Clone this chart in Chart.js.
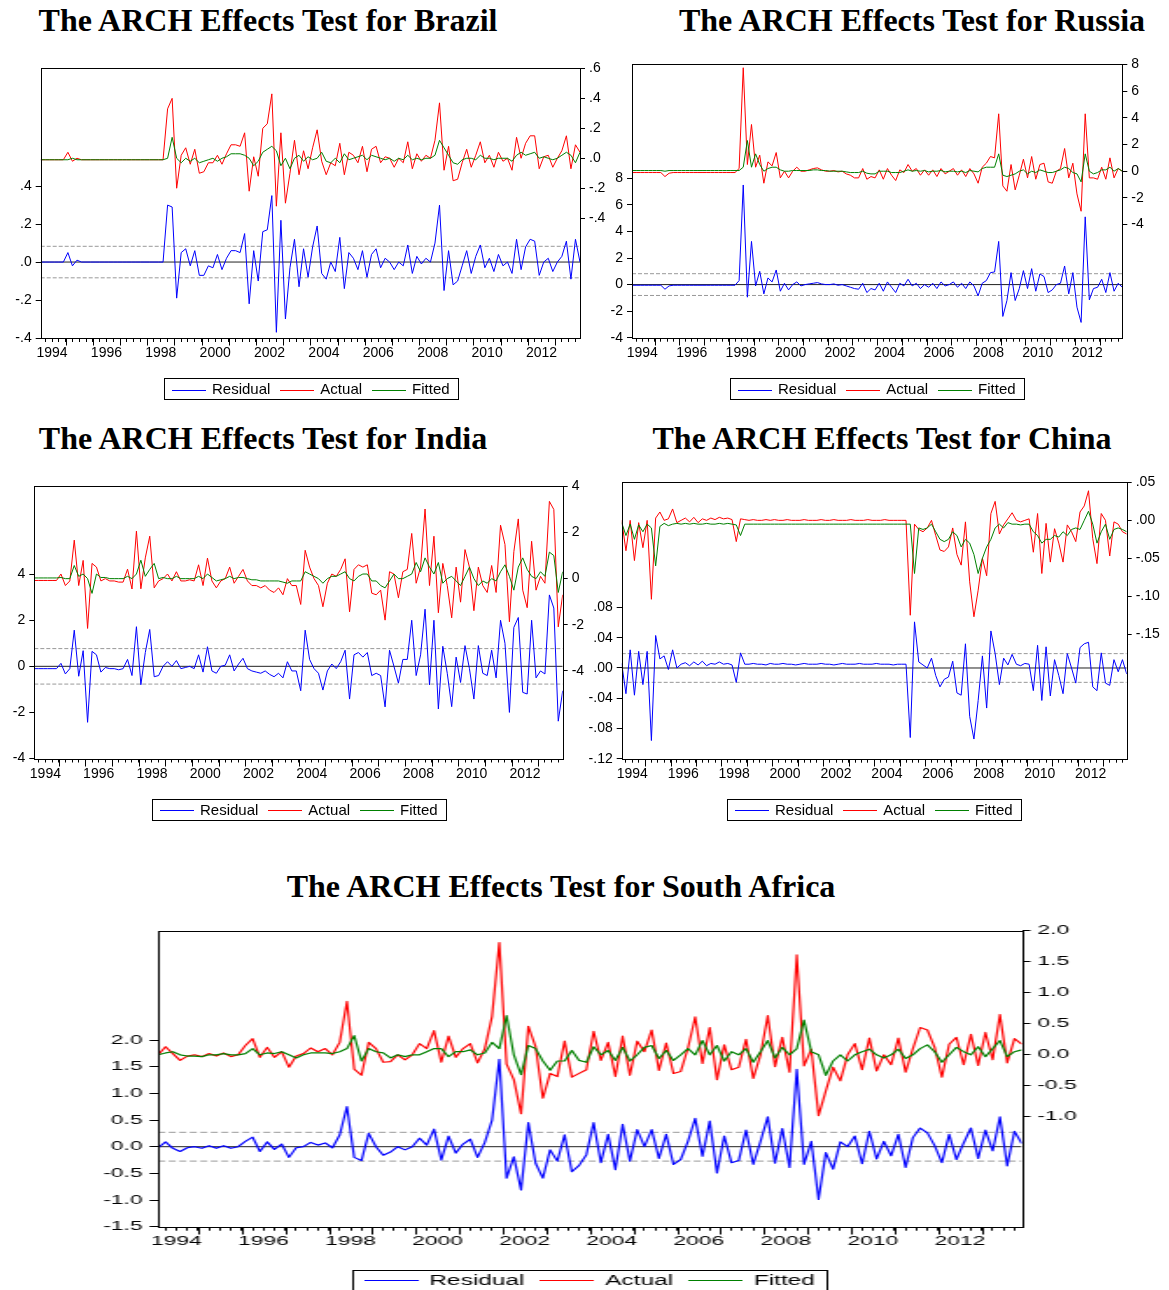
<!DOCTYPE html>
<html>
<head>
<meta charset="utf-8">
<script src="https://cdn.jsdelivr.net/npm/chart.js@4.4.1/dist/chart.umd.min.js"></script>
<style>
  body { margin: 0; background: #fff; width: 1169px; height: 1290px; position: relative; overflow: hidden; }
  .title { position: absolute; width: 640px; text-align: center; white-space: nowrap; color: #000;
           font: bold 32px 'Liberation Serif', 'Times New Roman', serif; line-height: 32px; }
  .panel { position: absolute; transform-origin: 0 0; }
</style>
</head>
<body>
<div class="title" style="left:-52px; top:4px">The ARCH Effects Test for Brazil</div>
<div class="title" style="left:592px; top:4px">The ARCH Effects Test for Russia</div>
<div class="title" style="left:-57px; top:422px">The ARCH Effects Test for India</div>
<div class="title" style="left:562px; top:422px">The ARCH Effects Test for China</div>
<div class="title" style="left:241px; top:870px">The ARCH Effects Test for South Africa</div>
<script>
// Muestra bimestral 1994M02 - 2013M12 (120 observaciones por serie)
const START = 1994 + 1 / 12;
const STEP = 2 / 12;
const N = 120;
const LABEL_YEARS = [1994, 1996, 1998, 2000, 2002, 2004, 2006, 2008, 2010, 2012];

// ---------- Brazil ----------
const BRAZIL_RESIDUAL = [
  0, 0, 0, 0, 0, 0,
  0.05, -0.02, 0.01, 0, 0, 0,
  0, 0, 0, 0, 0, 0,
  0, 0, 0, 0, 0, 0,
  0, 0, 0, 0, 0.30, 0.29,
  -0.19, 0.05, 0.07, -0.02, 0.06, -0.07,
  -0.07, -0.02, -0.03, 0.04, -0.04, 0.02,
  0.06, 0.06, 0.05, 0.15, -0.22, 0.06,
  -0.10, 0.16, 0.17, 0.35, -0.37, 0.22,
  -0.30, -0.03, 0.12, -0.13, 0.07, -0.08,
  0.08, 0.19, -0.06, -0.09, 0.00, -0.05,
  0.13, -0.14, 0.05, 0.02, -0.04, 0.06,
  -0.08, 0.04, 0.07, -0.03, 0.02, 0.00,
  -0.04, 0.00, -0.02, 0.09, -0.06, 0.03,
  -0.01, 0.02, 0.00, 0.10, 0.30, -0.15,
  0.06, -0.12, -0.10, -0.02, 0.06, -0.06,
  0.03, 0.09, -0.03, 0.02, -0.05, 0.04,
  -0.02, 0.00, -0.06, 0.12, -0.04, 0.08,
  0.12, 0.11, -0.07, 0.00, 0.02, -0.05,
  0.00, 0.03, 0.11, -0.09, 0.12, 0.00
];
const BRAZIL_ACTUAL = [
  -0.01, -0.01, -0.01, -0.01, -0.01, -0.01,
  0.04, -0.02, 0.00, -0.01, -0.01, -0.01,
  -0.01, -0.01, -0.01, -0.01, -0.01, -0.01,
  -0.01, -0.01, -0.01, -0.01, -0.01, -0.01,
  -0.01, -0.01, -0.01, -0.01, 0.33, 0.40,
  -0.20, 0.02, 0.07, -0.04, 0.06, -0.10,
  -0.09, -0.03, -0.03, 0.02, -0.04, 0.03,
  0.09, 0.09, 0.08, 0.17, -0.22, 0.01,
  -0.12, 0.20, 0.23, 0.43, -0.32, 0.17,
  -0.30, -0.10, 0.12, -0.11, 0.05, -0.07,
  0.07, 0.19, -0.02, -0.11, -0.03, -0.05,
  0.10, -0.11, 0.04, 0.02, -0.03, 0.08,
  -0.09, 0.06, 0.08, -0.03, 0.01, 0.00,
  -0.06, 0.00, -0.03, 0.11, -0.07, 0.03,
  -0.02, 0.02, 0.00, 0.12, 0.37, -0.08,
  0.08, -0.15, -0.14, -0.03, 0.06, -0.06,
  0.02, 0.11, -0.03, 0.02, -0.06, 0.04,
  -0.02, 0.00, -0.08, 0.14, 0.00, 0.10,
  0.15, 0.15, -0.07, 0.01, 0.02, -0.06,
  0.00, 0.05, 0.15, -0.07, 0.09, 0.04
];
const BRAZIL_FITTED = [
  -0.01, -0.01, -0.01, -0.01, -0.01, -0.01,
  -0.01, 0.00, -0.01, -0.01, -0.01, -0.01,
  -0.01, -0.01, -0.01, -0.01, -0.01, -0.01,
  -0.01, -0.01, -0.01, -0.01, -0.01, -0.01,
  -0.01, -0.01, -0.01, -0.01, 0.00, 0.14,
  0.00, -0.03, 0.00, -0.02, 0.00, -0.03,
  -0.02, -0.01, 0.00, -0.02, 0.00, 0.01,
  0.03, 0.03, 0.03, 0.02, 0.00, -0.05,
  -0.02, 0.04, 0.06, 0.08, 0.05, -0.05,
  0.00, -0.07, 0.00, 0.02, -0.02, 0.01,
  -0.01, 0.00, 0.04, -0.02, -0.03, 0.00,
  -0.03, 0.03, -0.01, 0.00, 0.01, 0.02,
  -0.01, 0.02, 0.01, 0.00, -0.01, 0.00,
  -0.02, 0.00, -0.01, 0.02, -0.01, 0.00,
  -0.01, 0.00, 0.00, 0.02, 0.12, 0.07,
  0.02, -0.03, -0.04, -0.01, 0.00, 0.00,
  -0.01, 0.02, 0.00, 0.00, -0.01, 0.00,
  0.00, 0.00, -0.02, 0.02, 0.04, 0.02,
  0.03, 0.04, 0.00, 0.01, 0.00, -0.01,
  0.00, 0.02, 0.04, 0.02, -0.03, 0.04
];
const BRAZIL_SIGMA = 0.083;
const BRAZIL_LEFT_TICKS = [-0.4, -0.2, 0, 0.2, 0.4];
const BRAZIL_RIGHT_TICKS = [-0.4, -0.2, 0, 0.2, 0.4, 0.6];

// ---------- Russia ----------
const RUSSIA_RESIDUAL = [
  -0.05, -0.05, -0.05, -0.05, -0.05, -0.05,
  -0.05, -0.05, -0.35, -0.10, -0.05, -0.05,
  -0.05, -0.05, -0.05, -0.05, -0.05, -0.05,
  -0.05, -0.05, -0.05, -0.05, -0.05, -0.05,
  -0.05, -0.05, 0.30, 7.50, -0.95, 3.25,
  -0.10, 1.00, -0.70, 0.50, 0.20, 1.10,
  -0.50, 0.10, -0.40, 0.00, 0.20, -0.10,
  0.00, 0.05, 0.10, 0.15, 0.05, 0.00,
  0.00, 0.05, -0.05, 0.00, -0.10, -0.20,
  -0.30, -0.35, 0.10, -0.60, -0.30, -0.40,
  0.10, -0.50, 0.20, -0.20, -0.60, 0.10,
  -0.10, 0.40, -0.10, 0.10, -0.30, 0.00,
  -0.20, 0.10, -0.30, 0.20, -0.10, 0.00,
  0.20, -0.20, 0.10, -0.30, 0.20, -0.10,
  -0.85, 0.10, 0.30, 0.90, 0.95, 3.25,
  -2.40, -1.20, 0.90, -1.20, -0.30, 1.05,
  -0.30, 1.20, -0.50, 0.80, 0.60, -0.60,
  -0.40, 0.00, 0.10, 1.40, -0.70, 0.90,
  -1.70, -2.85, 5.10, -1.15, -0.30, -0.20,
  0.40, -0.60, 0.90, -0.50, 0.10, -0.20
];
const RUSSIA_ACTUAL = [
  -0.10, -0.10, -0.10, -0.10, -0.10, -0.10,
  -0.10, -0.10, -0.40, -0.15, -0.10, -0.10,
  -0.10, -0.10, -0.10, -0.10, -0.10, -0.10,
  -0.10, -0.10, -0.10, -0.10, -0.10, -0.10,
  -0.10, -0.10, 0.20, 7.75, 0.50, 3.50,
  0.30, 1.20, -0.90, 0.70, 0.40, 1.40,
  -0.50, 0.00, -0.50, 0.00, 0.30, 0.00,
  0.00, 0.10, 0.20, 0.25, 0.10, 0.00,
  0.00, 0.05, -0.05, 0.00, -0.20, -0.30,
  -0.50, -0.50, 0.20, -0.60, -0.40, -0.50,
  0.10, -0.60, 0.20, -0.30, -0.70, 0.10,
  -0.10, 0.50, 0.00, 0.20, -0.30, 0.10,
  -0.30, 0.10, -0.40, 0.20, -0.20, 0.00,
  0.20, -0.30, 0.10, -0.40, 0.20, -0.20,
  -0.90, 0.30, 0.60, 1.10, 1.00, 4.30,
  -1.10, -1.50, 0.50, -1.40, -0.30, 0.90,
  -0.50, 1.10, -0.60, 0.50, 0.60, -0.80,
  -0.90, 0.00, 0.20, 1.70, -0.50, 0.60,
  -1.70, -3.00, 4.30, -0.50, -0.50, -0.60,
  0.30, -0.60, 1.00, -0.50, 0.20, 0.00
];
const RUSSIA_FITTED = [
  0.05, 0.05, 0.05, 0.05, 0.05, 0.05,
  0.05, 0.05, 0.00, 0.05, 0.05, 0.05,
  0.05, 0.05, 0.05, 0.05, 0.05, 0.05,
  0.05, 0.05, 0.05, 0.05, 0.05, 0.05,
  0.05, 0.05, 0.05, 0.30, 2.30, 0.30,
  1.30, 0.50, 0.00, 0.20, 0.30, 0.30,
  0.10, 0.00, 0.00, 0.05, 0.05, 0.05,
  0.05, 0.05, 0.10, 0.10, 0.05, 0.05,
  0.00, 0.00, 0.00, 0.00, -0.05, -0.10,
  -0.10, -0.10, 0.00, -0.15, -0.20, -0.20,
  0.00, 0.00, 0.00, -0.10, -0.10, -0.10,
  0.00, 0.10, 0.00, 0.05, 0.00, 0.05,
  -0.05, 0.00, 0.00, 0.05, -0.05, 0.00,
  0.00, -0.05, 0.00, -0.10, 0.05, 0.00,
  -0.05, 0.20, 0.30, 0.30, 0.30, 1.30,
  -0.30, -0.40, -0.30, -0.20, 0.00, 0.10,
  -0.20, 0.00, -0.10, 0.10, 0.00, -0.10,
  -0.10, 0.00, 0.10, 0.30, 0.20, -0.10,
  -0.20, -0.80, 1.30, 0.00, -0.20, -0.10,
  0.10, 0.10, 0.30, 0.00, 0.20, 0.00
];
const RUSSIA_SIGMA = 0.82;
const RUSSIA_LEFT_TICKS = [-4, -2, 0, 2, 4, 6, 8];
const RUSSIA_RIGHT_TICKS = [-4, -2, 0, 2, 4, 6, 8];

// ---------- India ----------
const INDIA_RESIDUAL = [
  -0.10, -0.10, -0.10, -0.10, -0.10, -0.10,
  0.13, -0.33, -0.10, 1.57, -0.43, 0.68,
  -2.43, 0.65, 0.50, -0.25, -0.05, -0.10,
  -0.10, -0.15, -0.10, 0.30, -0.40, 1.72,
  -0.80, 0.60, 1.60, -0.45, -0.40, 0.00,
  0.20, 0.00, 0.25, -0.10, -0.05, 0.00,
  -0.10, 0.50, -0.25, 0.85, -0.20, -0.30,
  0.00, 0.05, 0.50, -0.20, 0.10, 0.35,
  -0.10, -0.20, -0.25, -0.30, -0.20, -0.35,
  -0.45, -0.30, -0.50, 0.20, -0.20, -0.20,
  -1.06, 1.57, 0.30, -0.10, -0.30, -1.03,
  -0.20, 0.10, -0.10, 0.20, 0.70, -1.42,
  0.50, 0.60, 0.40, 0.60, -0.40, -0.30,
  -0.40, -1.76, 0.70, 0.00, -0.73, 0.30,
  0.30, 2.00, -0.40, 0.50, 2.48, -0.80,
  2.00, -1.85, 0.87, -0.30, -1.75, 0.40,
  -0.70, 0.90, -0.10, -1.42, 0.90, -0.30,
  -0.40, 0.70, -0.50, 2.00, 1.00, -2.00,
  1.69, 2.12, -1.13, -1.20, 2.00, -0.50,
  -0.20, -0.33, 3.10, 2.53, -2.38, -1.06
];
const INDIA_ACTUAL = [
  -0.08, -0.08, -0.08, -0.08, -0.08, -0.08,
  0.20, -0.30, -0.10, 1.67, -0.30, 0.79,
  -2.16, 0.66, 0.50, -0.10, 0.00, -0.10,
  -0.10, -0.15, -0.15, 0.41, -0.45, 2.06,
  -0.44, 0.90, 1.84, -0.40, -0.10, 0.00,
  0.20, -0.10, 0.30, -0.10, -0.10, -0.05,
  -0.10, 0.60, -0.30, 0.89, -0.10, -0.40,
  -0.10, 0.00, 0.50, -0.20, 0.10, 0.40,
  -0.10, -0.30, -0.30, -0.40, -0.30, -0.50,
  -0.60, -0.40, -0.70, 0.00, -0.30, -0.30,
  -1.12, 1.23, 0.50, 0.00, -0.30, -1.22,
  -0.20, 0.20, 0.10, 0.40, 0.86, -1.44,
  0.40, 0.60, 0.50, 0.60, -0.63, -0.70,
  -0.50, -1.80, 0.30, 0.20, -0.83, 0.30,
  0.40, 1.96, -0.20, 0.50, 3.02, -0.30,
  1.84, -1.48, 0.66, -0.30, -1.70, 0.50,
  -1.02, 1.26, 0.50, -1.39, 0.50, -0.30,
  -0.60, 0.57, -0.60, 2.32, 1.48, -1.87,
  1.17, 2.59, -0.50, -1.26, 1.62, -0.50,
  0.10, -0.20, 3.35, 3.00, -2.09, -0.70
];
const INDIA_FITTED = [
  0.03, 0.03, 0.03, 0.03, 0.03, 0.03,
  0.05, 0.00, 0.00, 0.57, 0.10, 0.20,
  0.00, -0.64, 0.20, 0.05, 0.05, 0.00,
  0.00, 0.00, 0.00, 0.10, 0.00, 0.20,
  0.80, 0.10, 0.40, 0.66, 0.00, 0.05,
  0.00, 0.00, 0.10, 0.00, 0.00, 0.00,
  0.00, 0.10, 0.00, 0.20, 0.05, -0.10,
  -0.05, 0.00, 0.10, 0.00, 0.05, 0.05,
  0.00, -0.05, -0.05, -0.10, -0.10, -0.10,
  -0.10, -0.10, -0.15, -0.20, -0.10, -0.10,
  -0.10, 0.30, 0.20, 0.10, 0.00, -0.20,
  0.00, 0.10, 0.10, 0.20, 0.30, 0.00,
  -0.10, 0.10, 0.20, 0.20, -0.10, -0.10,
  -0.30, -0.40, -0.10, 0.20, 0.00, 0.00,
  0.10, 0.20, 0.70, 0.30, 0.90, 0.50,
  0.20, 0.70, -0.20, 0.00, 0.10, -0.10,
  -0.30, 0.10, 0.50, 0.00, -0.30, -0.10,
  -0.20, 0.00, -0.10, 0.30, 0.60, 0.10,
  -0.50, 0.50, 0.90, 0.40, 0.10, 0.00,
  0.30, 0.10, 1.15, 1.00, -0.60, 0.30
];
const INDIA_SIGMA = 0.77;
const INDIA_LEFT_TICKS = [-4, -2, 0, 2, 4];
const INDIA_RIGHT_TICKS = [-4, -2, 0, 2, 4];

// ---------- China ----------
const CHINA_RESIDUAL = [
  0.006, -0.034, 0.024, -0.036, 0.022, -0.022,
  0.022, -0.096, 0.043, 0.012, 0.016, -0.002,
  0.024, 0.000, 0.005, 0.007, 0.003, 0.008,
  0.004, 0.009, 0.003, 0.006, 0.005, 0.008,
  0.005, 0.006, 0.004, -0.019, 0.020, 0.005,
  0.005, 0.006, 0.005, 0.005, 0.004, 0.006,
  0.005, 0.005, 0.006, 0.005, 0.005, 0.004,
  0.005, 0.006, 0.005, 0.005, 0.005, 0.006,
  0.005, 0.005, 0.004, 0.005, 0.006, 0.005,
  0.005, 0.005, 0.006, 0.005, 0.005, 0.005,
  0.006, 0.005, 0.005, 0.005, 0.004, 0.005,
  0.005, 0.005, -0.092, 0.061, 0.008, 0.004,
  0.000, 0.013, -0.010, -0.025, -0.015, -0.012,
  0.009, -0.033, -0.036, 0.032, -0.064, -0.094,
  -0.043, 0.016, -0.053, 0.049, 0.019, -0.022,
  0.013, 0.004, 0.018, 0.005, 0.003, 0.006,
  0.005, -0.030, 0.030, -0.043, 0.028, -0.037,
  0.011, -0.010, -0.034, 0.019, 0.000, -0.020,
  0.027, 0.032, 0.034, -0.025, -0.030, 0.020,
  -0.020, -0.023, 0.011, -0.005, 0.011, -0.008
];
const CHINA_ACTUAL = [
  0.000, -0.040, 0.000, -0.053, -0.003, -0.036,
  0.000, -0.104, 0.003, 0.011, 0.000, 0.002,
  0.015, -0.003, 0.000, 0.003, -0.002, 0.004,
  -0.003, 0.002, 0.000, 0.003, 0.001, 0.004,
  0.002, 0.003, 0.001, -0.028, 0.002, 0.001,
  0.000, 0.001, 0.000, 0.000, 0.001, 0.000,
  0.001, 0.000, 0.000, 0.001, 0.000, 0.000,
  0.000, 0.001, 0.000, 0.000, 0.000, 0.001,
  0.000, 0.000, 0.001, 0.000, 0.000, 0.000,
  0.001, 0.000, 0.000, 0.000, 0.001, 0.000,
  0.000, 0.000, 0.001, 0.000, 0.000, 0.000,
  0.000, 0.000, -0.125, -0.005, -0.012, -0.015,
  -0.010, 0.000, -0.020, -0.039, -0.041, -0.035,
  -0.010, -0.045, -0.059, -0.002, -0.081, -0.127,
  -0.092, -0.050, -0.073, 0.009, 0.025, -0.018,
  -0.006, 0.002, 0.010, 0.000, -0.002, 0.000,
  0.002, -0.042, 0.009, -0.070, -0.004, -0.055,
  -0.011, -0.030, -0.055, -0.006, -0.015, -0.028,
  0.011, 0.019, 0.039, -0.024, -0.057, 0.009,
  0.000, -0.047, -0.002, -0.005, -0.015, -0.018
];
const CHINA_FITTED = [
  -0.003, -0.020, -0.005, -0.025, -0.006, -0.015,
  -0.005, -0.010, -0.060, -0.008, -0.004, -0.007,
  -0.005, -0.004, -0.005, -0.004, -0.005, -0.004,
  -0.005, -0.005, -0.004, -0.005, -0.005, -0.004,
  -0.005, -0.004, -0.005, -0.006, -0.020, -0.005,
  -0.005, -0.005, -0.005, -0.005, -0.005, -0.005,
  -0.005, -0.005, -0.005, -0.005, -0.005, -0.005,
  -0.005, -0.005, -0.005, -0.005, -0.005, -0.005,
  -0.005, -0.005, -0.005, -0.005, -0.005, -0.005,
  -0.005, -0.005, -0.005, -0.005, -0.005, -0.005,
  -0.005, -0.005, -0.005, -0.005, -0.005, -0.005,
  -0.005, -0.005, -0.005, -0.070, -0.010, -0.012,
  -0.010, -0.005, -0.015, -0.025, -0.028, -0.025,
  -0.015, -0.020, -0.035, -0.025, -0.030, -0.045,
  -0.070, -0.050, -0.035, -0.025, -0.010, -0.005,
  -0.010, -0.003, -0.005, -0.005, -0.006, -0.005,
  -0.005, -0.015, -0.020, -0.030, -0.025, -0.025,
  -0.020, -0.022, -0.015, -0.020, -0.012, -0.010,
  -0.012, 0.000, 0.012, -0.005, -0.030, -0.015,
  -0.005, -0.025, -0.012, -0.010, -0.012, -0.015
];
const CHINA_SIGMA = 0.019;
const CHINA_LEFT_TICKS = [-0.12, -0.08, -0.04, 0, 0.04, 0.08];
const CHINA_RIGHT_TICKS = [-0.15, -0.10, -0.05, 0, 0.05];

// ---------- South Africa ----------
const SA_RESIDUAL = [
  -0.02, 0.09, -0.03, -0.09, -0.02, 0.00,
  -0.03, 0.02, -0.03, 0.02, -0.03, 0.00,
  0.10, 0.18, -0.09, 0.09, -0.05, 0.05,
  -0.20, -0.02, 0.00, 0.08, 0.03, 0.07,
  -0.02, 0.22, 0.75, -0.20, -0.26, 0.25,
  0.00, -0.16, -0.10, 0.00, -0.06, 0.00,
  0.16, 0.03, 0.33, -0.25, 0.20, -0.12,
  0.05, 0.14, -0.20, 0.08, 0.50, 1.64,
  -0.59, -0.19, -0.81, 0.45, -0.31, -0.59,
  -0.06, -0.27, 0.22, -0.47, -0.35, -0.15,
  0.45, -0.30, 0.23, -0.43, 0.42, -0.27,
  0.32, 0.00, 0.32, -0.22, 0.23, -0.33,
  -0.24, 0.10, 0.53, -0.18, 0.48, -0.49,
  0.20, -0.30, -0.26, 0.31, -0.33, 0.10,
  0.56, -0.31, 0.34, -0.39, 1.45, -0.33,
  0.10, -0.99, -0.11, -0.42, 0.09, 0.00,
  0.20, -0.32, 0.29, -0.23, 0.10, -0.17,
  0.23, -0.39, 0.17, 0.35, 0.26, 0.02,
  -0.30, 0.23, -0.24, 0.07, 0.35, -0.22,
  0.31, -0.08, 0.56, -0.36, 0.29, 0.06
];
const SA_ACTUAL = [
  0.00, 0.13, 0.02, -0.09, -0.02, 0.00,
  -0.03, 0.02, -0.02, 0.03, -0.03, 0.00,
  0.15, 0.26, -0.04, 0.12, -0.04, 0.05,
  -0.20, -0.02, 0.02, 0.11, 0.05, 0.10,
  0.00, 0.20, 0.86, -0.23, -0.33, 0.20,
  0.10, -0.12, -0.11, 0.00, -0.08, 0.00,
  0.18, 0.10, 0.39, -0.12, 0.30, -0.04,
  0.10, 0.18, -0.13, 0.10, 0.62, 1.81,
  -0.15, -0.40, -0.95, 0.46, 0.13, -0.70,
  -0.30, -0.35, 0.22, -0.36, -0.30, -0.24,
  0.38, -0.09, 0.20, -0.35, 0.30, -0.33,
  0.22, 0.05, 0.40, -0.25, 0.19, -0.30,
  -0.27, 0.11, 0.61, -0.14, 0.44, -0.40,
  0.16, -0.24, -0.20, 0.25, -0.38, 0.00,
  0.63, -0.19, 0.28, -0.28, 1.61, -0.18,
  0.09, -0.98, -0.58, -0.20, -0.42, 0.00,
  0.18, -0.24, 0.27, -0.26, 0.00, -0.16,
  0.27, -0.28, 0.10, 0.44, 0.40, 0.12,
  -0.36, 0.17, 0.28, -0.16, 0.33, -0.17,
  0.36, -0.08, 0.65, -0.13, 0.26, 0.17
];
const SA_FITTED = [
  0.00, 0.03, 0.05, 0.00, -0.02, -0.02,
  -0.03, 0.00, 0.00, 0.02, 0.00, 0.00,
  0.02, 0.10, 0.00, 0.03, 0.02, 0.05,
  0.00, -0.05, 0.00, 0.03, 0.03, 0.03,
  0.02, 0.05, 0.10, 0.31, -0.10, 0.10,
  0.05, 0.03, -0.05, 0.00, -0.03, 0.00,
  0.00, 0.05, 0.10, 0.10, -0.03, 0.05,
  0.05, 0.08, 0.00, 0.03, 0.20, 0.10,
  0.63, 0.00, -0.32, 0.15, 0.10, -0.10,
  -0.25, -0.10, -0.10, 0.07, -0.09, -0.12,
  0.13, 0.00, 0.07, -0.09, 0.12, -0.10,
  0.00, 0.12, 0.15, -0.06, 0.07, -0.09,
  0.00, 0.10, 0.00, 0.23, 0.00, 0.15,
  -0.10, 0.05, 0.00, 0.10, -0.12, 0.05,
  0.23, -0.05, 0.12, 0.00, 0.10, 0.56,
  0.05, 0.00, -0.33, -0.10, 0.00, -0.10,
  0.00, 0.05, 0.09, 0.00, -0.05, 0.00,
  0.09, -0.06, 0.00, 0.10, 0.16, 0.05,
  -0.12, 0.00, 0.12, 0.05, 0.00, 0.13,
  -0.03, 0.10, 0.23, -0.03, 0.05, 0.08
];
const SA_SIGMA = 0.27;
const SA_LEFT_TICKS = [-1.5, -1.0, -0.5, 0, 0.5, 1.0, 1.5, 2.0];
const SA_RIGHT_TICKS = [-1.0, -0.5, 0, 0.5, 1.0, 1.5, 2.0];

const SERIES_COLORS = { Residual: '#0000ff', Actual: '#ff0000', Fitted: '#008000' };

// Eje temporal
const TIMES = Array.from({ length: N }, (_, i) => START + i * STEP);
const X_MIN = TIMES[0];
const X_MAX = TIMES[N - 1];
const QUARTER_TICKS = [];
for (let y = 1994; y <= 2014; y++) {
  for (let q = 0; q < 4; q++) {
    const v = y + q / 4;
    if (v >= X_MIN && v <= X_MAX) QUARTER_TICKS.push(v);
  }
}
const YEAR_TICKS = QUARTER_TICKS.filter(v => Number.isInteger(v));

const X_AXIS_H = 28;
const FONT_FAMILY = "'Liberation Sans', Arial, sans-serif";

function fmtTick(v, dec, strip) {
  let s = Math.abs(v) < 1e-9 ? (0).toFixed(dec) : v.toFixed(dec);
  if (strip) s = s.replace(/^(-?)0\./, '$1.');
  return s;
}

function yearLabel(v) {
  const y = v - 0.5;
  const r = Math.round(y);
  if (Math.abs(y - r) < 1e-6 && LABEL_YEARS.includes(r)) return String(r);
  return '';
}

// Marco completo y marcas largas de año
const framePlugin = {
  id: 'frame',
  afterDatasetsDraw(chart) {
    const { ctx, chartArea: a } = chart;
    const xs = chart.scales.x;
    ctx.save();
    ctx.strokeStyle = '#000';
    ctx.lineWidth = 1;
    const l = Math.round(a.left) + 0.5, t = Math.round(a.top) + 0.5;
    const r = Math.round(a.right) + 0.5, b = Math.round(a.bottom) + 0.5;
    ctx.strokeRect(l, t, r - l, b - t);
    ctx.beginPath();
    YEAR_TICKS.forEach(v => {
      const px = Math.round(xs.getPixelForValue(v)) + 0.5;
      ctx.moveTo(px, b);
      ctx.lineTo(px, b + 7);
    });
    ctx.stroke();
    ctx.restore();
  }
};

// Leyenda con recuadro al estilo EViews
const boxLegendPlugin = {
  id: 'boxLegend',
  afterDraw(chart, args, o) {
    const { ctx, chartArea } = chart;
    const items = chart.data.datasets.filter(d => d.inLegend);
    ctx.save();
    ctx.font = `${o.size}px ${FONT_FAMILY}`;
    const widths = items.map(d => ctx.measureText(d.label).width);
    const total = o.pad * 2 + items.length * (o.line + o.gap) +
      widths.reduce((s, w) => s + w, 0) + (items.length - 1) * o.space;
    let x = Math.round((chartArea.left + chartArea.right) / 2 - total / 2);
    const top = Math.round(chartArea.bottom + o.offset);
    ctx.strokeStyle = '#000';
    ctx.lineWidth = 1;
    ctx.strokeRect(x + 0.5, top + 0.5, Math.round(total), o.height);
    // fila par en la página para que la línea conserve su color
    let mid = Math.round(top + o.height / 2);
    if ((o.pageTop + mid) % 2 !== 0) mid += 1;
    x += o.pad;
    items.forEach((d, i) => {
      ctx.fillStyle = SERIES_COLORS[d.label];
      ctx.fillRect(Math.round(x), mid, o.line, 1);
      x += o.line + o.gap;
      ctx.fillStyle = '#000';
      ctx.textAlign = 'left';
      ctx.textBaseline = 'middle';
      ctx.fillText(d.label, x, Math.round(top + o.height / 2) + 1);
      x += widths[i] + o.space;
    });
    ctx.restore();
  }
};

function yScale(position, axis, width, font) {
  return {
    type: 'linear',
    position,
    min: axis.min,
    max: axis.max,
    afterBuildTicks: s => { s.ticks = axis.ticks.map(v => ({ value: v })); },
    afterFit: s => { s.width = width; },
    grid: { drawOnChartArea: false, drawTicks: true, tickLength: 5, color: '#000', lineWidth: 1 },
    border: { display: false },
    ticks: { color: '#000', font, padding: 4, autoSkip: false,
             callback: v => fmtTick(v, axis.dec, axis.strip) }
  };
}

function buildPanel(p) {
  const sx = p.sx;
  const pw = (p.box.x1 - p.box.x0) / sx;
  const ph = p.box.y1 - p.box.y0;
  const pageLeft = Math.floor(p.box.x0 - p.leftW * sx);
  const pageTop = Math.floor(p.box.y0 - 12);
  const padL = (p.box.x0 - p.leftW * sx - pageLeft) / sx;
  const padT = p.box.y0 - pageTop;
  const W = Math.ceil(padL + p.leftW + pw + p.rightW + 2);
  const H = Math.ceil(padT + ph + X_AXIS_H + 44);
  const padR = W - padL - p.leftW - pw - p.rightW;
  const padB = H - padT - ph - X_AXIS_H;

  const wrap = document.createElement('div');
  wrap.className = 'panel';
  wrap.style.left = pageLeft + 'px';
  wrap.style.top = pageTop + 'px';
  wrap.style.width = W + 'px';
  wrap.style.height = H + 'px';
  if (sx !== 1) wrap.style.transform = `scaleX(${sx})`;
  const canvas = document.createElement('canvas');
  canvas.width = W;
  canvas.height = H;
  wrap.appendChild(canvas);
  document.body.appendChild(wrap);

  const font = { family: FONT_FAMILY, size: p.tickSize };
  const lw = p.lineWidth;
  const refLine = (y, color, dash) => ({
    data: [{ x: X_MIN, y }, { x: X_MAX, y }],
    yAxisID: 'yL', borderColor: color, borderWidth: 1, borderDash: dash,
    pointRadius: 0, order: 4
  });
  const series = (label, data, axisId, order) => ({
    label, data, yAxisID: axisId, borderColor: SERIES_COLORS[label],
    borderWidth: lw, pointRadius: 0, tension: 0, borderJoinStyle: 'round', order, inLegend: true
  });

  new Chart(canvas, {
    type: 'line',
    data: {
      labels: TIMES,
      datasets: [
        series('Residual', p.res, 'yL', 3),
        series('Actual', p.act, 'yR', 2),
        series('Fitted', p.fit, 'yR', 1),
        refLine(0, '#222', []),
        refLine(p.sigma, '#999', [4, 2]),
        refLine(-p.sigma, '#999', [4, 2])
      ]
    },
    options: {
      responsive: false,
      animation: false,
      events: [],
      layout: { padding: { left: padL, right: padR, top: padT, bottom: padB } },
      plugins: {
        legend: { display: false },
        tooltip: { enabled: false },
        boxLegend: Object.assign({ pageTop }, p.legend)
      },
      scales: {
        x: {
          type: 'linear',
          min: X_MIN,
          max: X_MAX,
          afterBuildTicks: s => { s.ticks = QUARTER_TICKS.map(v => ({ value: v })); },
          afterFit: s => { s.height = X_AXIS_H; },
          grid: { drawOnChartArea: false, drawTicks: true, tickLength: 4, color: '#000', lineWidth: 1 },
          border: { display: false },
          ticks: { autoSkip: false, maxRotation: 0, minRotation: 0, color: '#000', font,
                   padding: 3, callback: v => yearLabel(v) }
        },
        yL: yScale('left', p.left, p.leftW, font),
        yR: yScale('right', p.right, p.rightW, font)
      }
    },
    plugins: [framePlugin, boxLegendPlugin]
  });
}

const LEGEND_STD = { size: 15, offset: 40, height: 21, line: 34, gap: 6, space: 10, pad: 8 };
const LEGEND_SA = { size: 14, offset: 43, height: 20, line: 31, gap: 6, space: 9, pad: 7 };

const PANELS = [
  { res: BRAZIL_RESIDUAL, act: BRAZIL_ACTUAL, fit: BRAZIL_FITTED, sigma: BRAZIL_SIGMA,
    left: { min: -0.4, max: 1.02, ticks: BRAZIL_LEFT_TICKS, dec: 1, strip: true },
    right: { min: -1.2, max: 0.6, ticks: BRAZIL_RIGHT_TICKS, dec: 1, strip: true },
    box: { x0: 40.7, y0: 68, x1: 580, y1: 338 }, leftW: 40, rightW: 40, sx: 1,
    tickSize: 14, lineWidth: 1, legend: LEGEND_STD },
  { res: RUSSIA_RESIDUAL, act: RUSSIA_ACTUAL, fit: RUSSIA_FITTED, sigma: RUSSIA_SIGMA,
    left: { min: -4, max: 16.58, ticks: RUSSIA_LEFT_TICKS, dec: 0, strip: false },
    right: { min: -12.47, max: 8, ticks: RUSSIA_RIGHT_TICKS, dec: 0, strip: false },
    box: { x0: 632, y0: 64, x1: 1122.3, y1: 337.7 }, leftW: 40, rightW: 40, sx: 1,
    tickSize: 14, lineWidth: 1, legend: LEGEND_STD },
  { res: INDIA_RESIDUAL, act: INDIA_ACTUAL, fit: INDIA_FITTED, sigma: INDIA_SIGMA,
    left: { min: -4, max: 7.81, ticks: INDIA_LEFT_TICKS, dec: 0, strip: false },
    right: { min: -7.8, max: 4, ticks: INDIA_RIGHT_TICKS, dec: 0, strip: false },
    box: { x0: 34.3, y0: 486, x1: 562.7, y1: 758.5 }, leftW: 34, rightW: 40, sx: 1,
    tickSize: 14, lineWidth: 1, legend: LEGEND_STD },
  { res: CHINA_RESIDUAL, act: CHINA_ACTUAL, fit: CHINA_FITTED, sigma: CHINA_SIGMA,
    left: { min: -0.12, max: 0.2455, ticks: CHINA_LEFT_TICKS, dec: 2, strip: true },
    right: { min: -0.314, max: 0.05, ticks: CHINA_RIGHT_TICKS, dec: 2, strip: true },
    box: { x0: 621.7, y0: 482, x1: 1126.7, y1: 758.7 }, leftW: 40, rightW: 40, sx: 1,
    tickSize: 14, lineWidth: 1, legend: LEGEND_STD },
  { res: SA_RESIDUAL, act: SA_ACTUAL, fit: SA_FITTED, sigma: SA_SIGMA,
    left: { min: -1.5, max: 4.05, ticks: SA_LEFT_TICKS, dec: 1, strip: false },
    right: { min: -2.77, max: 2.0, ticks: SA_RIGHT_TICKS, dec: 1, strip: false },
    box: { x0: 158.3, y0: 930.7, x1: 1021.7, y1: 1226.7 }, leftW: 40, rightW: 40, sx: 1.75,
    tickSize: 13, lineWidth: 1.2, legend: LEGEND_SA }
];

PANELS.forEach((p, k) => {
  ['res', 'act', 'fit'].forEach(key => {
    if (p[key].length !== N) throw new Error(`panel ${k} ${key} has ${p[key].length} values`);
  });
  buildPanel(p);
});
</script>
</body>
</html>
